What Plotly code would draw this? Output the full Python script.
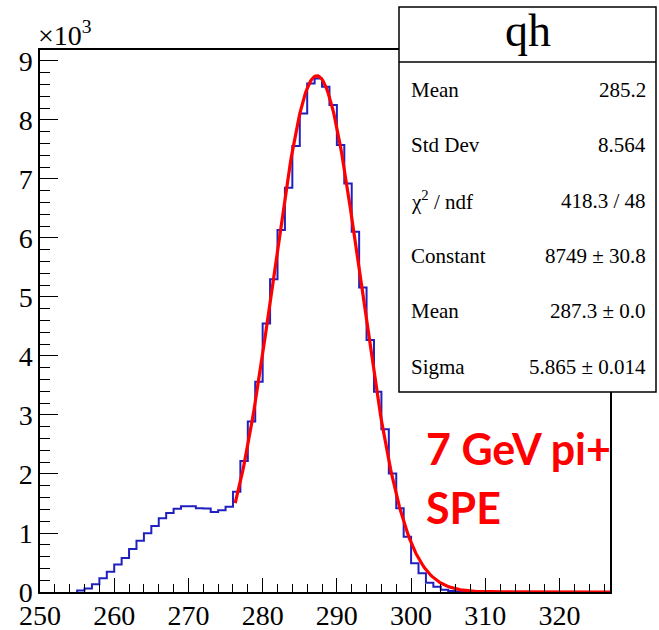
import plotly.graph_objects as go
import numpy as np

# ---- data ----
FIRST_BIN = 255          # lower edge of first non-empty bin (bin width 1)
COUNTS = [25, 60, 130, 232, 345, 468, 578, 727, 867, 995,
          1119, 1250, 1340, 1410, 1455, 1455, 1419, 1415, 1356, 1385,
          1446, 1700, 2220, 2890, 3565, 4550, 5300, 6135, 6850, 7560,
          8110, 8620, 8705, 8565, 8255, 7575, 6925, 6105, 5160, 4270,
          3395, 2757, 2010, 1418, 938, 486, 316, 158, 90, 40,
          15, 5, 0]

FIT_CONSTANT = 8749.0
FIT_MEAN = 287.3
FIT_SIGMA = 5.865
FIT_RANGE = [276.3, 326.8]

X_RANGE = [250, 326.8]
Y_RANGE = [0, 9186]
X_TICKS = [250, 260, 270, 280, 290, 300, 310, 320]
X_TICK_LABELS = ["250", "260", "270", "280", "290", "300", "310", "320"]
Y_TICK_VALUES = [0, 1000, 2000, 3000, 4000, 5000, 6000, 7000, 8000, 9000]
Y_TICK_LABELS = ["0", "1", "2", "3", "4", "5", "6", "7", "8", "9"]

STATS_TITLE = "qh"
STATS_LABELS = ["Mean", "Std Dev", "χ<sup>2</sup> / ndf", "Constant", "Mean", "Sigma"]
STATS_VALUES = ["285.2", "8.564", "418.3 / 48", "8749 ± 30.8", "287.3 ± 0.0", "5.865 ± 0.014"]
NOTE_LINES = ["7 GeV pi+", "SPE"]

# ---- layout geometry (pixels) ----
W, H = 659, 630
L, R, T, B = 40, 610, 50, 592
SERIF = "Liberation Serif, Times New Roman, serif"


def px(xp):
    return (xp - L) / (R - L)


def py(yp):
    return (B - yp) / (B - T)


n = len(COUNTS)
hx = [FIRST_BIN] + [FIRST_BIN + i for i in range(n)] + [FIRST_BIN + n]
hy = [0] + COUNTS + [COUNTS[-1]]

fx = np.linspace(FIT_RANGE[0], FIT_RANGE[1], 300)
fy = FIT_CONSTANT * np.exp(-0.5 * ((fx - FIT_MEAN) / FIT_SIGMA) ** 2)

fig = go.Figure()
fig.add_trace(go.Scatter(x=hx, y=hy, mode="lines", line=dict(color="#2020c0", width=2, shape="hv"),
                         hoverinfo="skip", showlegend=False))
fig.add_trace(go.Scatter(x=fx, y=fy, mode="lines", line=dict(color="#ff0000", width=3.2),
                         hoverinfo="skip", showlegend=False))

fig.update_xaxes(range=X_RANGE, tickmode="array", tickvals=X_TICKS, ticktext=X_TICK_LABELS, ticklen=14,
                 showgrid=False, zeroline=False, showline=True, linecolor="black", linewidth=1.5,
                 mirror=True, ticks="inside", tickcolor="black", tickwidth=1.2, ticklabelstandoff=-2,
                 automargin=False,
                 tickfont=dict(family=SERIF, size=28, color="black"),
                 minor=dict(dtick=2, ticklen=8, ticks="inside", tickcolor="black", tickwidth=1.2))
fig.update_yaxes(range=Y_RANGE, tickmode="array", tickvals=Y_TICK_VALUES, ticktext=Y_TICK_LABELS, ticklen=18,
                 showgrid=False, zeroline=False, showline=True, linecolor="black", linewidth=1.5,
                 mirror=True, ticks="inside", tickcolor="black", tickwidth=1.2,
                 automargin=False,
                 tickfont=dict(family=SERIF, size=28, color="black"),
                 minor=dict(dtick=200, ticklen=10, ticks="inside", tickcolor="black", tickwidth=1.2))

shapes = []
annotations = []

# exponent label
annotations.append(dict(xref="paper", yref="paper", x=px(36), y=py(34), xanchor="left", yanchor="middle",
                        text="×10<sup>3</sup>", showarrow=False,
                        font=dict(family=SERIF, size=28, color="black")))

# stats box
bx0, bx1, by0, by1, bsep = 399, 656, 7, 392, 62
shapes.append(dict(type="rect", xref="paper", yref="paper", x0=px(bx0), x1=px(bx1), y0=py(by1), y1=py(by0),
                   fillcolor="white", line=dict(color="black", width=1.5), layer="above"))
shapes.append(dict(type="line", xref="paper", yref="paper", x0=px(bx0), x1=px(bx1), y0=py(bsep), y1=py(bsep),
                   line=dict(color="black", width=1.5), layer="above"))
annotations.append(dict(xref="paper", yref="paper", x=px((bx0 + bx1) / 2), y=py(31), xanchor="center",
                        yanchor="middle", text=STATS_TITLE, showarrow=False,
                        font=dict(family=SERIF, size=46, color="black")))
row_y0, row_dy = 90, 55.3
for i, (lab, val) in enumerate(zip(STATS_LABELS, STATS_VALUES)):
    yy = row_y0 + i * row_dy
    annotations.append(dict(xref="paper", yref="paper", x=px(409), y=py(yy), xanchor="left", yanchor="middle",
                            text=lab, showarrow=False, font=dict(family=SERIF, size=21, color="black")))
    annotations.append(dict(xref="paper", yref="paper", x=px(648), y=py(yy), xanchor="right", yanchor="middle",
                            text=val, showarrow=False, font=dict(family=SERIF, size=21, color="black")))

# red note
for i, line in enumerate(NOTE_LINES):
    annotations.append(dict(xref="paper", yref="paper", x=px(424), y=py(448 + i * 59), xanchor="left",
                            yanchor="middle", text="<b>%s</b>" % line, showarrow=False,
                            font=dict(family="Lato", size=43, color="#ff0000")))

fig.update_layout(width=W, height=H, autosize=False,
                  margin=dict(l=L, r=W - R, t=T, b=H - B, pad=0, autoexpand=False),
                  paper_bgcolor="white", plot_bgcolor="white",
                  shapes=shapes, annotations=annotations, showlegend=False)

fig.write_html("out.html")
